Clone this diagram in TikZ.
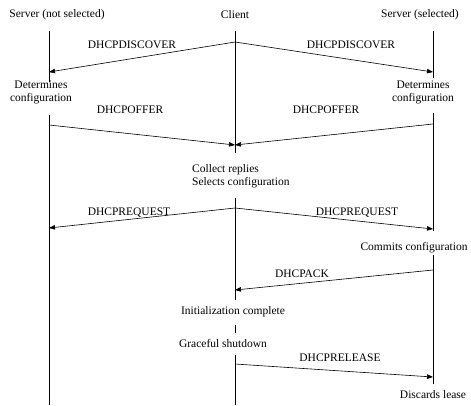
\documentclass[tikz,border=0pt]{standalone}
\usepackage{fontspec}
\setmainfont{Liberation Serif}
\usetikzlibrary{arrows.meta}
\begin{document}
\begin{tikzpicture}[x=1pt,y=-1pt,
  life/.style={line width=0.7pt},
  msg/.style={line width=0.6pt,-{Triangle[length=6pt,width=4.5pt]}},
  lbl/.style={font=\fontsize{11.5}{13}\selectfont,inner sep=0pt},
  two/.style={lbl,align=center}]
\useasboundingbox (0,0) rectangle (471,405);
% headers
\node[lbl] (hL) at (57,15) {Server (not selected)};
\node[lbl] (hC) at (235,15) {Client};
\node[lbl] (hR) at (420,15) {Server (selected)};
% state texts
\node[two] (detL) at (41,92) {Determines\\configuration};
\node[two] (detR) at (423,92) {Determines\\configuration};
\node[lbl,align=left,anchor=west] (coll) at (192,176.5) {Collect replies\\Selects configuration};
\node[lbl] (comm) at (414,248) {Commits configuration};
\node[lbl] (init) at (233,312) {Initialization complete};
\node[lbl] (grac) at (223,343) {Graceful shutdown};
\node[lbl] (disc) at (433,395) {Discards lease};
% lifeline points
\coordinate (L0) at (49,31);  \coordinate (L1) at (49,82);
\coordinate (L2) at (49,115); \coordinate (L3) at (49,405);
\coordinate (C0) at (235,31); \coordinate (C1) at (235,153);
\coordinate (C2) at (235,198); \coordinate (C3) at (235,300);
\coordinate (C4) at (235,325); \coordinate (C5) at (235,333);
\coordinate (C6) at (235,355); \coordinate (C7) at (235,405);
\coordinate (R0) at (433,31); \coordinate (R1) at (433,78);
\coordinate (R2) at (433,113); \coordinate (R3) at (433,231);
\coordinate (R4) at (433,255); \coordinate (R5) at (433,384);
\draw[life] (L0) -- (L1) (L2) -- (L3);
\draw[life] (C0) -- (C1) (C2) -- (C3) (C4) -- (C5) (C6) -- (C7);
\draw[life] (R0) -- (R1) (R2) -- (R3) (R4) -- (R5);
% message end points
\coordinate (dC) at (235,42); \coordinate (dL) at (49,72); \coordinate (dR) at (433,72);
\coordinate (oL) at (49,125); \coordinate (oR) at (433,124); \coordinate (oC) at (235,145);
\coordinate (qC) at (235,208); \coordinate (qL) at (49,228); \coordinate (qR) at (433,229);
\coordinate (aR) at (433,270); \coordinate (aC) at (235,290);
\coordinate (rC) at (235,364); \coordinate (rR) at (433,377);
\draw[msg] (dC) -- (dL);
\draw[msg] (dC) -- (dR);
\draw[msg] (oL) -- (oC);
\draw[msg] (oR) -- (oC);
\draw[msg] (qC) -- (qL);
\draw[msg] (qC) -- (qR);
\draw[msg] (aR) -- (aC);
\draw[msg] (rC) -- (rR);
% message labels
\node[lbl] (mdL) at (132,45) {DHCPDISCOVER};
\node[lbl] (mdR) at (351,45) {DHCPDISCOVER};
\node[lbl] (moL) at (130,110) {DHCPOFFER};
\node[lbl] (moR) at (326,110) {DHCPOFFER};
\node[lbl] (mqL) at (129,213) {DHCPREQUEST};
\node[lbl] (mqR) at (357,213) {DHCPREQUEST};
\node[lbl] (ma) at (302,274) {DHCPACK};
\node[lbl] (mr) at (340,358) {DHCPRELEASE};
\end{tikzpicture}
\end{document}
